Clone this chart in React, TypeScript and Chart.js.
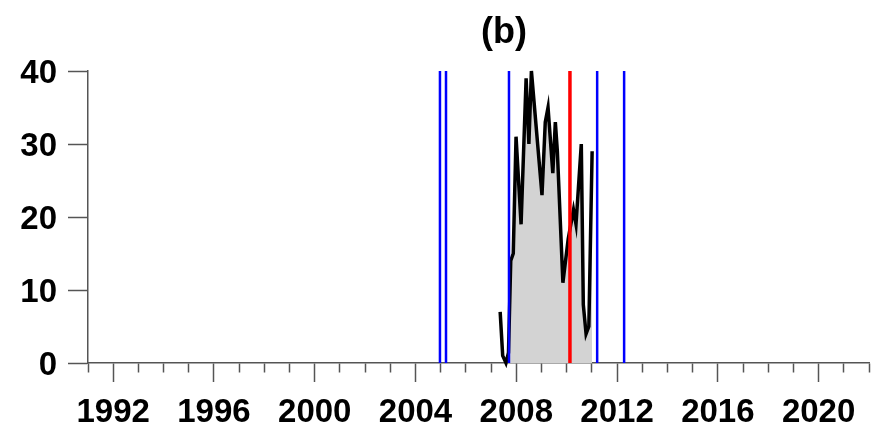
import React, { useEffect, useRef } from "react";
import { Chart, registerables } from "chart.js";

Chart.register(...registerables);

const years = [2007.36, 2007.46, 2007.59, 2007.69, 2007.78, 2007.88, 2007.99, 2008.19, 2008.39, 2008.5, 2008.6, 2009.02, 2009.15, 2009.26, 2009.45, 2009.55, 2009.63, 2009.85, 2010.06, 2010.27, 2010.37, 2010.58, 2010.66, 2010.77, 2010.88, 2011.01];
const values = [7, 1, 0, 1.4, 14, 15, 31, 19, 39, 30, 40, 23, 33, 35, 26, 33, 29, 11, 17, 21, 19, 30, 8, 4, 5, 29];
const fillStartIndex = 3;
const blueLines = [2004.97, 2005.21, 2007.71, 2011.21, 2012.28];
const redLines = [2010.13];
const yearTicks = Array.from({ length: 32 }, (_, i) => 1991 + i);
const labelYears = [1992, 1996, 2000, 2004, 2008, 2012, 2016, 2020];
const yTicks = [0, 10, 20, 30, 40];
const titleText = "(b)";

const FONT = '"Liberation Sans", Arial, sans-serif';
const AXIS = "#555555";

export default function App() {
  const ref = useRef<HTMLCanvasElement | null>(null);
  useEffect(() => {
    document.body.style.margin = "0";
    const canvas = ref.current!;
    const pts = years.map((x, i) => ({ x, y: values[i] }));
    const vline = (x: number, color: string, w: number) => ({
      data: [{ x, y: 0 }, { x, y: 40 }],
      borderColor: color,
      borderWidth: w,
      pointRadius: 0,
      fill: false,
      order: 0,
      clip: false as any,
    });
    const titlePlugin = {
      id: "titleB",
      afterDraw(chart: any) {
        const c = chart.ctx;
        c.save();
        c.font = `bold 36px ${FONT}`;
        c.fillStyle = "#000";
        c.textAlign = "center";
        c.textBaseline = "middle";
        c.fillText(titleText, 504, 33);
        c.restore();
      },
    };
    const chart = new Chart(canvas, {
      type: "line",
      data: {
        datasets: [
          {
            data: pts.slice(fillStartIndex),
            borderWidth: 0,
            borderColor: "rgba(0,0,0,0)",
            backgroundColor: "#d3d3d3",
            fill: "origin",
            pointRadius: 0,
            order: 2,
          } as any,
          {
            data: pts,
            borderColor: "#000000",
            borderWidth: 3.5,
            pointRadius: 0,
            fill: false,
            order: 1,
            clip: false,
          } as any,
          ...blueLines.map((x) => vline(x, "#0000ff", 2.5)),
          ...redLines.map((x) => vline(x, "#ff0000", 3.5)),
        ],
      },
      options: {
        animation: false,
        responsive: false,
        devicePixelRatio: 1,
        layout: { padding: { top: 71, right: 12, left: 0, bottom: 0 } },
        plugins: { legend: { display: false }, tooltip: { enabled: false }, title: { display: false } },
        elements: { line: { tension: 0 } },
        scales: {
          x: {
            type: "linear",
            min: 1991,
            max: 2022,
            afterBuildTicks: (scale: any) => {
              scale.ticks = yearTicks.map((v) => ({ value: v }));
            },
            afterFit: (scale: any) => {
              scale.height = 70;
            },
            ticks: {
              autoSkip: false,
              maxRotation: 0,
              padding: 11,
              color: "#000",
              font: { family: FONT, size: 33, weight: "bold" },
              callback: (v: any) => (labelYears.includes(Number(v)) ? String(v) : ""),
            },
            grid: {
              drawOnChartArea: false,
              tickLength: 19,
              tickColor: AXIS,
              tickWidth: 1.5,
              tickBorderDash: (ctx: any) =>
                ctx.tick && labelYears.includes(ctx.tick.value) ? [] : [9, 40],
            } as any,
            border: { color: AXIS, width: 1.5 },
          },
          y: {
            type: "linear",
            min: 0,
            max: 40,
            afterBuildTicks: (scale: any) => {
              scale.ticks = yTicks.map((v) => ({ value: v }));
            },
            afterFit: (scale: any) => {
              scale.width = 88;
            },
            ticks: {
              padding: 11,
              labelOffset: 3,
              color: "#000",
              font: { family: FONT, size: 33, weight: "bold" },
            },
            grid: {
              drawOnChartArea: false,
              tickLength: 20,
              tickColor: AXIS,
              tickWidth: 1.5,
            },
            border: { color: AXIS, width: 1.5 },
          },
        },
      },
      plugins: [titlePlugin],
    });
    return () => chart.destroy();
  }, []);
  return (
    <div style={{ position: "fixed", left: 0, top: 0, width: 881, height: 433 }}>
      <canvas ref={ref} width={881} height={433} />
    </div>
  );
}
